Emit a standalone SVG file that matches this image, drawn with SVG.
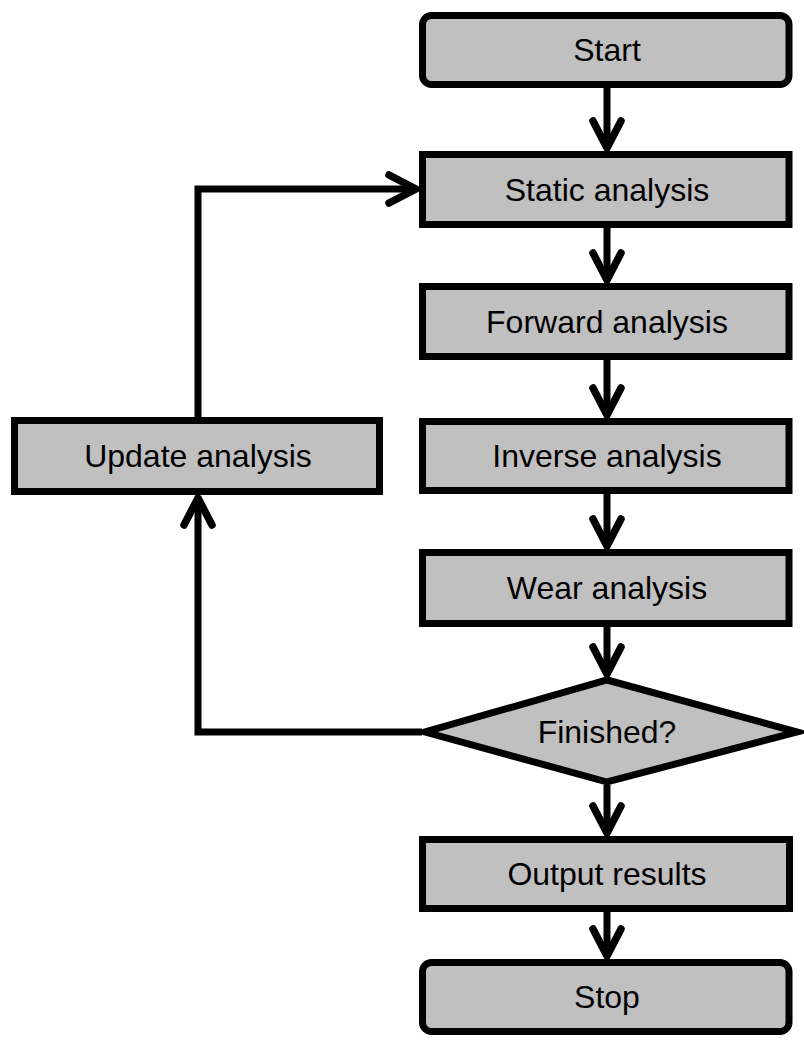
<svg xmlns="http://www.w3.org/2000/svg" width="804" height="1050" viewBox="0 0 804 1050">
<defs>
<style>
.n{fill:#c0c0c0;stroke:#000;stroke-width:7}
.t{font-family:"Liberation Sans",Arial,sans-serif;font-size:32px;fill:#000;text-anchor:middle}
.c{fill:none;stroke:#000;stroke-width:7}
</style>
<marker id="ah" markerUnits="userSpaceOnUse" markerWidth="44" markerHeight="44" viewBox="-34 -22 44 44" refX="0" refY="0" orient="auto">
<path d="M-27,-14 L0,0 L-27,14" fill="none" stroke="#000" stroke-width="7.5" stroke-linecap="round" stroke-linejoin="round"/>
</marker>
</defs>
<rect width="804" height="1050" fill="#fff"/>
<g id="connectors">
<line class="c" x1="607" y1="88" x2="607" y2="148" marker-end="url(#ah)"/>
<line class="c" x1="607" y1="228" x2="607" y2="280" marker-end="url(#ah)"/>
<line class="c" x1="607" y1="360" x2="607" y2="415" marker-end="url(#ah)"/>
<line class="c" x1="607" y1="494" x2="607" y2="546" marker-end="url(#ah)"/>
<line class="c" x1="607" y1="627" x2="607" y2="674" marker-end="url(#ah)"/>
<line class="c" x1="607" y1="785" x2="607" y2="833" marker-end="url(#ah)"/>
<line class="c" x1="607" y1="912" x2="607" y2="956" marker-end="url(#ah)"/>
<polyline class="c" points="422,732 198,732 198,498" marker-end="url(#ah)"/>
<polyline class="c" points="198,417 198,189 416,189" marker-end="url(#ah)"/>
</g>
<g id="start"><rect class="n" x="422.5" y="15.5" width="366.5" height="69" rx="9"/><text class="t" x="607" y="61">Start</text></g>
<g id="static"><rect class="n" x="422.5" y="154.5" width="366.5" height="70"/><text class="t" x="607" y="201">Static analysis</text></g>
<g id="forward"><rect class="n" x="422.5" y="286.5" width="366.5" height="70"/><text class="t" x="607" y="333">Forward analysis</text></g>
<g id="inverse"><rect class="n" x="422.5" y="421.5" width="366.5" height="69"/><text class="t" x="607" y="467">Inverse analysis</text></g>
<g id="wear"><rect class="n" x="422.5" y="552.5" width="366.5" height="71"/><text class="t" x="607" y="599">Wear analysis</text></g>
<g id="finished"><polygon class="n" points="607,680 797,732 607,782 425,732"/><text class="t" x="607" y="743">Finished?</text></g>
<g id="output"><rect class="n" x="422.5" y="839.5" width="367" height="69"/><text class="t" x="607" y="885">Output results</text></g>
<g id="stop"><rect class="n" x="422.5" y="962.5" width="366.5" height="69" rx="9"/><text class="t" x="607" y="1008">Stop</text></g>
<g id="update"><rect class="n" x="14.5" y="420.5" width="365" height="71"/><text class="t" x="198" y="467">Update analysis</text></g>
</svg>
